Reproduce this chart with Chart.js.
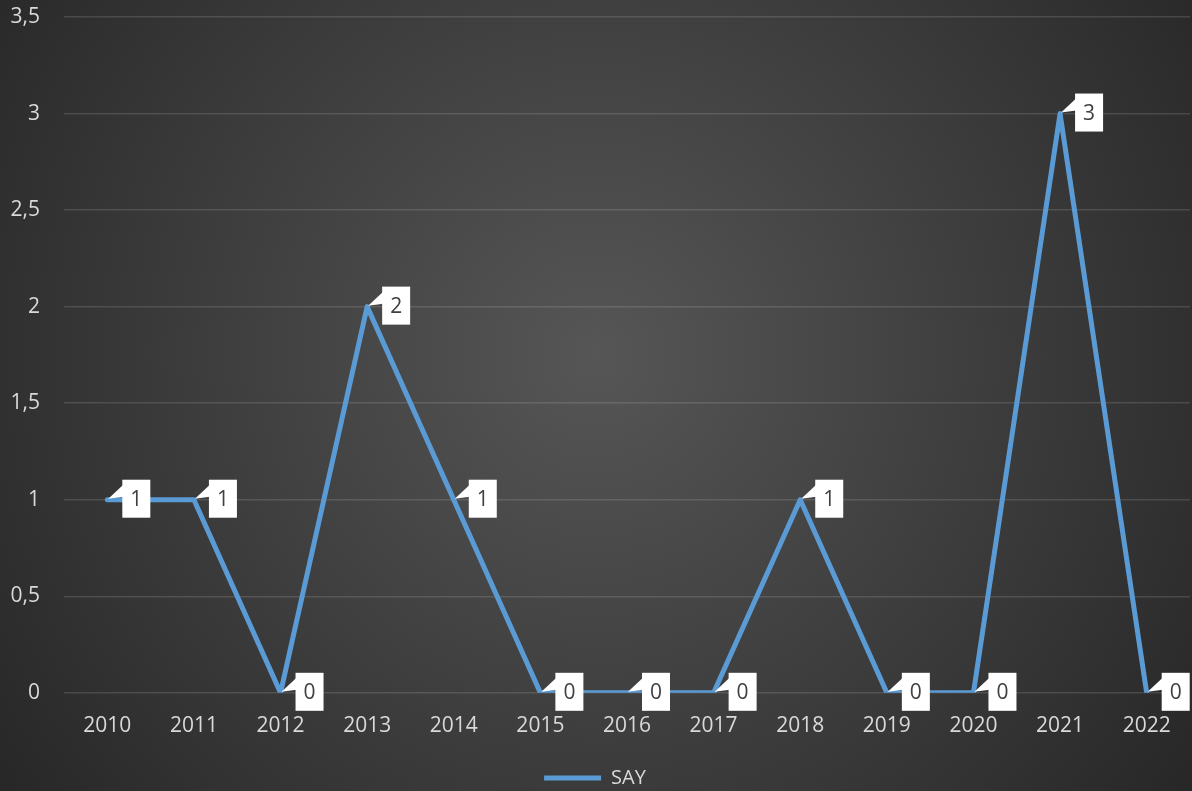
<!DOCTYPE html>
<html>
<head>
<meta charset="utf-8">
<script src="https://cdn.jsdelivr.net/npm/chart.js@4"></script>
<style>
  html, body { margin: 0; padding: 0; background: #2b2b2b; }
  #wrap { width: 1192px; height: 791px; }
</style>
</head>
<body>
<div id="wrap"><canvas id="chart" width="1192" height="791"></canvas></div>
<script>
// Data
const years = ["2010", "2011", "2012", "2013", "2014", "2015", "2016", "2017", "2018", "2019", "2020", "2021", "2022"];
const sayValues = [1, 1, 0, 2, 1, 0, 0, 0, 1, 0, 0, 3, 0];
const seriesName = "SAY";

const FONT = "'Open Sans', 'Noto Sans', sans-serif";
const LINE_BLUE = "#5b9bd5";

// dark radial background behind everything
const backgroundPlugin = {
  id: "bg",
  beforeDraw(chart) {
    const { ctx, width, height } = chart;
    const g = ctx.createRadialGradient(width * 0.5, height * 0.45, 0, width * 0.5, height * 0.45, width * 0.62);
    g.addColorStop(0, "#565656");
    g.addColorStop(1, "#272727");
    ctx.save();
    ctx.fillStyle = g;
    ctx.fillRect(0, 0, width, height);
    ctx.restore();
  }
};

// white callout labels next to each point
const calloutPlugin = {
  id: "callouts",
  afterDatasetsDraw(chart) {
    const { ctx } = chart;
    const meta = chart.getDatasetMeta(0);
    ctx.save();
    meta.data.forEach((pt, i) => {
      const x = pt.x, y = pt.y;
      const left = x + 15, top = y - 20, w = 28, h = 38;
      ctx.fillStyle = "#ffffff";
      ctx.beginPath();
      ctx.moveTo(x + 1, y - 1);
      ctx.lineTo(left + 1, top + 5);
      ctx.lineTo(left + 1, top + 17);
      ctx.closePath();
      ctx.fill();
      ctx.fillRect(left, top, w, h);
      ctx.fillStyle = "#404040";
      ctx.font = "21px " + FONT;
      ctx.textAlign = "center";
      ctx.textBaseline = "middle";
      ctx.fillText(String(chart.data.datasets[0].data[i]), left + w / 2, top + h / 2 + 1);
    });
    ctx.restore();
  }
};

new Chart(document.getElementById("chart"), {
  type: "line",
  data: {
    labels: years,
    datasets: [{
      label: seriesName,
      data: sayValues,
      borderColor: LINE_BLUE,
      backgroundColor: LINE_BLUE,
      borderWidth: 5,
      borderCapStyle: "round",
      borderJoinStyle: "round",
      pointRadius: 0,
      tension: 0
    }]
  },
  options: {
    responsive: false,
    animation: false,
    layout: { padding: { top: 0, right: 2, left: 0, bottom: -7 } },
    plugins: {
      tooltip: { enabled: false },
      legend: {
        position: "bottom",
        labels: {
          usePointStyle: true,
          pointStyle: "line",
          pointStyleWidth: 57,
          color: "#d9d9d9",
          font: { family: FONT, size: 20 },
          padding: 8
        }
      }
    },
    scales: {
      x: {
        offset: true,
        grid: { display: false, drawTicks: false },
        border: { display: false },
        ticks: { color: "#d9d9d9", font: { family: FONT, size: 21 }, padding: 21, maxRotation: 0 }
      },
      y: {
        min: 0,
        max: 3.5,
        grid: { color: "rgba(255,255,255,0.13)", lineWidth: 1.5, drawTicks: false },
        border: { display: false },
        afterFit(scale) {
          scale.width = 64;
          scale.paddingTop = 17;
          scale.paddingBottom = 0;
        },
        ticks: {
          stepSize: 0.5,
          color: "#d9d9d9",
          font: { family: FONT, size: 21 },
          padding: 24,
          callback: (v) => String(v).replace(".", ",")
        }
      }
    }
  },
  plugins: [backgroundPlugin, calloutPlugin]
});
</script>
</body>
</html>
